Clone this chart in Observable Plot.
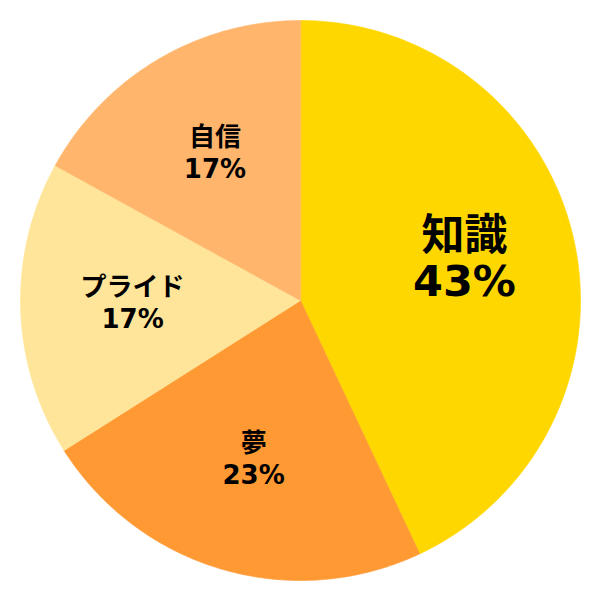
<!DOCTYPE html>
<html>
<head>
<meta charset="utf-8">
<script src="https://cdn.jsdelivr.net/npm/d3@7"></script>
<script src="https://cdn.jsdelivr.net/npm/@observablehq/plot@0.6"></script>
<style>
  html, body { margin: 0; padding: 0; background: #fff; }
</style>
</head>
<body>
<div id="chart"></div>
<script>
const categories = ["知識", "夢", "プライド", "自信"];
const values = [43, 23, 17, 17];
const colors = ["#FFD700", "#FF9933", "#FFE599", "#FFB56B"];
const labelSizes = [43, 26, 26, 26];

const data = categories.map((c, i) => ({name: c, value: values[i], color: colors[i], size: labelSizes[i]}));
const total = d3.sum(values);

const arcs = d3.pie().value(d => d.value).sort(null)(data);

// Build slice outlines from the pie layout (angles clockwise from 12 o'clock)
const outline = [];
for (const a of arcs) {
  const n = Math.max(2, Math.ceil((a.endAngle - a.startAngle) / 0.01));
  outline.push({name: a.data.name, color: a.data.color, x: 0, y: 0});
  for (let k = 0; k <= n; k++) {
    const t = a.startAngle + (a.endAngle - a.startAngle) * k / n;
    outline.push({name: a.data.name, color: a.data.color, x: Math.sin(t), y: -Math.cos(t)});
  }
}

const labels = arcs.map(a => {
  const m = (a.startAngle + a.endAngle) / 2;
  const r = 0.6;
  return {
    name: a.data.name,
    pct: Math.round(a.data.value / total * 100) + "%",
    size: a.data.size,
    big: a.data.size > 30,
    x: r * Math.sin(m),
    y: -r * Math.cos(m)
  };
});

const font = "'DejaVu Sans', 'Noto Sans CJK JP', sans-serif";

const chart = Plot.plot({
  width: 600,
  height: 600,
  margin: 20,
  x: {domain: [-1, 1], axis: null},
  y: {domain: [-1, 1], axis: null, reverse: true},
  style: {fontFamily: font, background: "#fff"},
  marks: [
    Plot.line(outline, {x: "x", y: "y", z: "name", fill: "color", stroke: "color", strokeWidth: 0.6, curve: "linear-closed"}),
    Plot.text(labels.filter(d => d.big), {
      x: "x", y: "y", text: d => d.name + "\n" + d.pct,
      fontSize: 43, fontWeight: "bold", fill: "#000", lineHeight: 1.08, dy: -6
    }),
    Plot.text(labels.filter(d => !d.big), {
      x: "x", y: "y", text: d => d.name + "\n" + d.pct,
      fontSize: 26, fontWeight: "bold", fill: "#000", lineHeight: 1.21, dy: -4
    })
  ]
});

document.getElementById("chart").appendChild(chart);
</script>
</body>
</html>
